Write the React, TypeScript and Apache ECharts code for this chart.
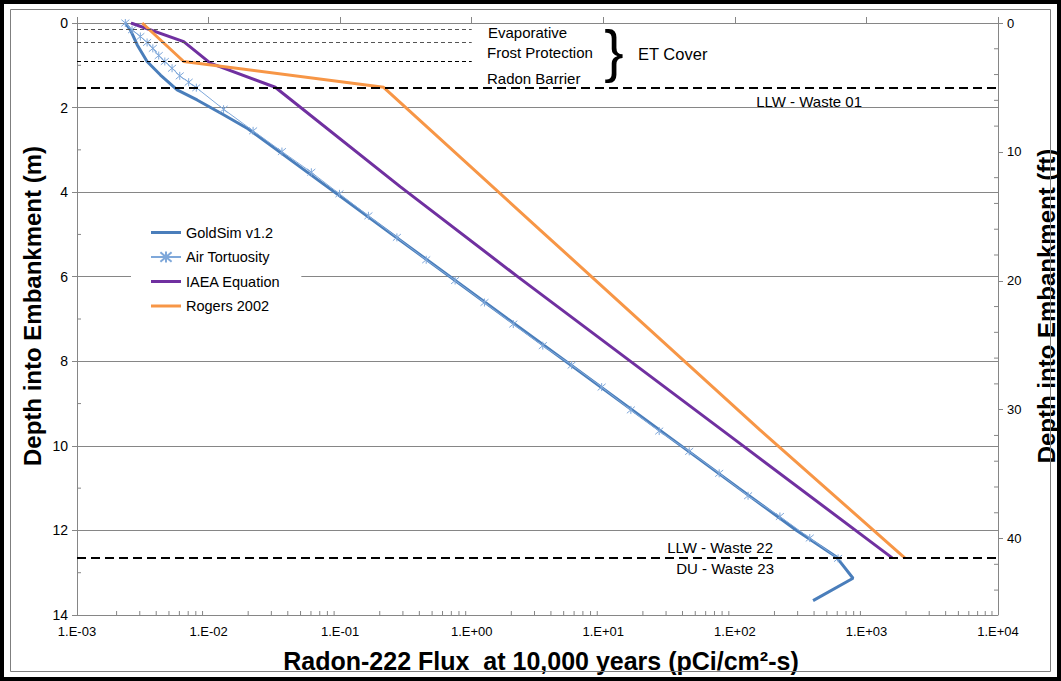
import React, { useEffect, useRef } from "react";
import * as echarts from "echarts";

// Radon-222 flux (pCi/cm2-s) against depth into the embankment (m)
const goldSimDepth = [0, 0.17, 0.52, 0.91, 1.23, 1.58, 1.82, 2.17, 2.5, 3, 4, 5, 6, 7, 8, 9, 10, 11, 12, 12.63, 13.13, 13.66];
const goldSimFlux = [0.00233, 0.00255, 0.00287, 0.00341, 0.00431, 0.00577, 0.00818, 0.013, 0.0199, 0.033, 0.0906, 0.249, 0.685, 1.88, 5.18, 14.2, 39.1, 107, 295, 592, 791, 393];

const airDepth = [0, 0.16, 0.32, 0.46, 0.6, 0.77, 0.91, 1.07, 1.25, 1.4, 1.53, 2.04, 2.55, 3.04, 3.53, 4.04, 4.56, 5.07, 5.6, 6.09, 6.61, 7.12, 7.63, 8.09, 8.61, 9.15, 9.65, 10.13, 10.65, 11.18, 11.67, 12.18, 12.66];
const airFlux = [0.00233, 0.00262, 0.00303, 0.00341, 0.00377, 0.00418, 0.00465, 0.00528, 0.00604, 0.00706, 0.00807, 0.013, 0.0218, 0.0361, 0.0604, 0.0988, 0.164, 0.27, 0.451, 0.748, 1.25, 2.07, 3.47, 5.75, 9.72, 16.2, 26.6, 45.0, 76.0, 126, 220, 371, 609];

const iaeaDepth = [0, 0.44, 0.95, 1.52, 3.87, 6.01, 10.03, 12.65];
const iaeaFlux = [0.00257, 0.00647, 0.0103, 0.0321, 0.286, 2.26, 119, 1570];

const rogersDepth = [0, 0.91, 1.52, 4.89, 9.62, 12.65];
const rogersFlux = [0.00313, 0.00647, 0.214, 3.3, 155, 1954];

// Cover layer boundaries (thin dashes) and waste boundaries (heavy dashes), m
const coverLayerDepths = [0.14, 0.46, 0.91];
const wasteBoundaryDepths = [1.52, 12.65];
const coverLineEndFlux = 1;

const xTickLabels = ["1.E-03", "1.E-02", "1.E-01", "1.E+00", "1.E+01", "1.E+02", "1.E+03", "1.E+04"];
const depthMaxM = 14;
const feetPerMetre = 3.28084;

const seriesNames = ["GoldSim v1.2", "Air Tortuosity", "IAEA Equation", "Rogers 2002"];
const seriesColors = ["#4A7EBB", "#7FA8DA", "#7030A0", "#F79646"];

const FONT = '"Liberation Sans", Arial, sans-serif';
const AXIS_GREY = "#868686";

const pairs = (xs: number[], ys: number[]) => xs.map((x, i) => [x, ys[i]]);

// Minor tick positions: 2..9 within each decade, odd metres, every 2 ft
const xMinorTicks: number[] = [];
for (let e = -3; e < 4; e++) for (let k = 2; k <= 9; k++) xMinorTicks.push(k * Math.pow(10, e));
const mMinorTicks = [1, 3, 5, 7, 9, 11, 13];
const ftMinorTicks = [2, 4, 6, 8, 12, 14, 16, 18, 22, 24, 26, 28, 32, 34, 36, 38, 42, 44];

function tickSeries(data: number[][], yAxisIndex: number, dx: number, dy: number) {
  return {
    type: "custom",
    silent: true,
    clip: false,
    yAxisIndex,
    data,
    z: 1,
    renderItem: (_p: any, api: any) => {
      const p = api.coord([api.value(0), api.value(1)]);
      return {
        type: "line",
        shape: { x1: p[0], y1: p[1], x2: p[0] + dx, y2: p[1] + dy },
        style: { stroke: AXIS_GREY, lineWidth: 1 },
      };
    },
  };
}

const asterisk = "path://M0,0L10,10M10,0L0,10M5,-1L5,11";
const thickLineIcon = "path://M0,0H30V3H0Z";

export default function App() {
  const ref = useRef<HTMLDivElement>(null);

  useEffect(() => {
    if (!ref.current) return;
    const chart = echarts.init(ref.current, null, { renderer: "svg" });

    const markLineData: any[] = [
      ...coverLayerDepths.map((d, i) => [
        { coord: [0.001, d], lineStyle: { type: [4, 3], width: 1, color: i < 2 ? "#555" : "#000" } },
        { coord: [coverLineEndFlux, d] },
      ]),
      ...wasteBoundaryDepths.map((d) => ({ yAxis: d, lineStyle: { type: [9, 5], width: 2.2, color: "#000" } })),
    ];

    const text = (t: string, x: number, y: number, size: number, align = "left", extra: any = {}) => ({
      type: "text",
      x,
      y,
      silent: true,
      style: { text: t, font: `${size}px ${FONT}`, fill: "#000", align, verticalAlign: "middle", ...extra },
    });

    const option: any = {
      animation: false,
      backgroundColor: "#fff",
      grid: { left: 77, right: 63, top: 23, bottom: 66 },
      xAxis: {
        type: "log",
        logBase: 10,
        min: 0.001,
        max: 10000,
        axisLine: { show: true, lineStyle: { color: AXIS_GREY } },
        axisTick: { show: true, inside: true, length: 6, lineStyle: { color: AXIS_GREY } },
        axisLabel: {
          fontSize: 13,
          fontFamily: FONT,
          color: "#000",
          margin: 10,
          formatter: (v: number) => xTickLabels[Math.round(Math.log10(v)) + 3] ?? "",
        },
        splitLine: { show: false },
      },
      yAxis: [
        {
          type: "value",
          inverse: true,
          min: 0,
          max: depthMaxM,
          interval: 2,
          axisLine: { show: true, lineStyle: { color: AXIS_GREY } },
          axisTick: { show: true, length: 5, lineStyle: { color: AXIS_GREY } },
          axisLabel: { fontSize: 14, fontFamily: FONT, color: "#000", margin: 9 },
          splitLine: { show: true, lineStyle: { color: AXIS_GREY, width: 1 } },
        },
        {
          type: "value",
          inverse: true,
          position: "right",
          min: 0,
          max: depthMaxM * feetPerMetre,
          interval: 10,
          axisLine: { show: true, lineStyle: { color: AXIS_GREY } },
          axisTick: { show: true, length: 5, lineStyle: { color: AXIS_GREY } },
          axisLabel: {
            fontSize: 13,
            fontFamily: FONT,
            color: "#000",
            margin: 9,
            showMaxLabel: false,
            formatter: (v: number) => (v % 10 === 0 ? String(v) : ""),
          },
          splitLine: { show: false },
        },
      ],
      legend: {
        data: [
          { name: seriesNames[0], icon: thickLineIcon },
          { name: seriesNames[1] },
          { name: seriesNames[2], icon: thickLineIcon },
          { name: seriesNames[3], icon: thickLineIcon },
        ],
        orient: "vertical",
        left: 131,
        top: 220,
        padding: [5, 21, 5, 19],
        backgroundColor: "#fff",
        itemWidth: 30,
        itemHeight: 14,
        itemGap: 9.5,
        textStyle: { fontSize: 14.5, fontFamily: FONT, color: "#000" },
      },
      series: [
        tickSeries(xMinorTicks.map((v) => [v, depthMaxM]), 0, 0, -4),
        tickSeries(mMinorTicks.map((d) => [0.001, d]), 0, 4, 0),
        tickSeries(ftMinorTicks.map((f) => [10000, f]), 1, -4, 0),
        {
          name: seriesNames[0],
          type: "line",
          data: pairs(goldSimFlux, goldSimDepth),
          showSymbol: false,
          symbol: "none",
          lineStyle: { color: seriesColors[0], width: 3 },
          itemStyle: { color: seriesColors[0] },
          z: 3,
          markLine: { silent: true, symbol: "none", label: { show: false }, data: markLineData, z: 5 },
        },
        {
          name: seriesNames[1],
          type: "line",
          data: pairs(airFlux, airDepth),
          symbol: asterisk,
          symbolSize: 8,
          showAllSymbol: true,
          lineStyle: { color: seriesColors[1], width: 1 },
          itemStyle: { color: seriesColors[1], borderColor: seriesColors[1], borderWidth: 1 },
          z: 4,
        },
        {
          name: seriesNames[2],
          type: "line",
          data: pairs(iaeaFlux, iaeaDepth),
          showSymbol: false,
          symbol: "none",
          lineStyle: { color: seriesColors[2], width: 3 },
          itemStyle: { color: seriesColors[2] },
          z: 4,
        },
        {
          name: seriesNames[3],
          type: "line",
          data: pairs(rogersFlux, rogersDepth),
          showSymbol: false,
          symbol: "none",
          lineStyle: { color: seriesColors[3], width: 3 },
          itemStyle: { color: seriesColors[3] },
          z: 4,
        },
      ],
      graphic: [
        text("Evaporative", 488, 32, 15),
        text("Frost Protection", 487, 52, 15),
        text("Radon Barrier", 487, 78, 15),
        text("}", 614, 50, 58, "center"),
        text("ET Cover", 638, 54, 16.5),
        text("LLW - Waste 01", 862, 101, 15, "right"),
        text("LLW - Waste 22", 773, 547, 15, "right"),
        text("DU - Waste 23", 774, 568, 15, "right"),
        {
          type: "text",
          x: 32,
          y: 306,
          rotation: Math.PI / 2,
          silent: true,
          style: { text: "Depth into Embankment (m)", font: `bold 24px ${FONT}`, fill: "#000", align: "center", verticalAlign: "middle" },
        },
        {
          type: "text",
          x: 1046,
          y: 306,
          rotation: Math.PI / 2,
          silent: true,
          style: { text: "Depth into Embankment (ft)", font: `bold 24px ${FONT}`, fill: "#000", align: "center", verticalAlign: "middle" },
        },
        {
          type: "text",
          x: 541,
          y: 661,
          silent: true,
          style: { text: "Radon-222 Flux  at 10,000 years (pCi/cm²-s)", font: `bold 25px ${FONT}`, fill: "#000", align: "center", verticalAlign: "middle" },
        },
        {
          type: "rect",
          silent: true,
          z: 100,
          shape: { x: 10.5, y: 9.5, width: 1040, height: 662 },
          style: { fill: "none", stroke: "#7f7f7f", lineWidth: 1 },
        },
        {
          type: "rect",
          silent: true,
          z: 100,
          shape: { x: 2, y: 2, width: 1057, height: 677 },
          style: { fill: "none", stroke: "#000", lineWidth: 4 },
        },
      ],
    };

    chart.setOption(option);
    return () => chart.dispose();
  }, []);

  return <div ref={ref} style={{ position: "absolute", left: 0, top: 0, width: 1061, height: 681, background: "#fff" }} />;
}
